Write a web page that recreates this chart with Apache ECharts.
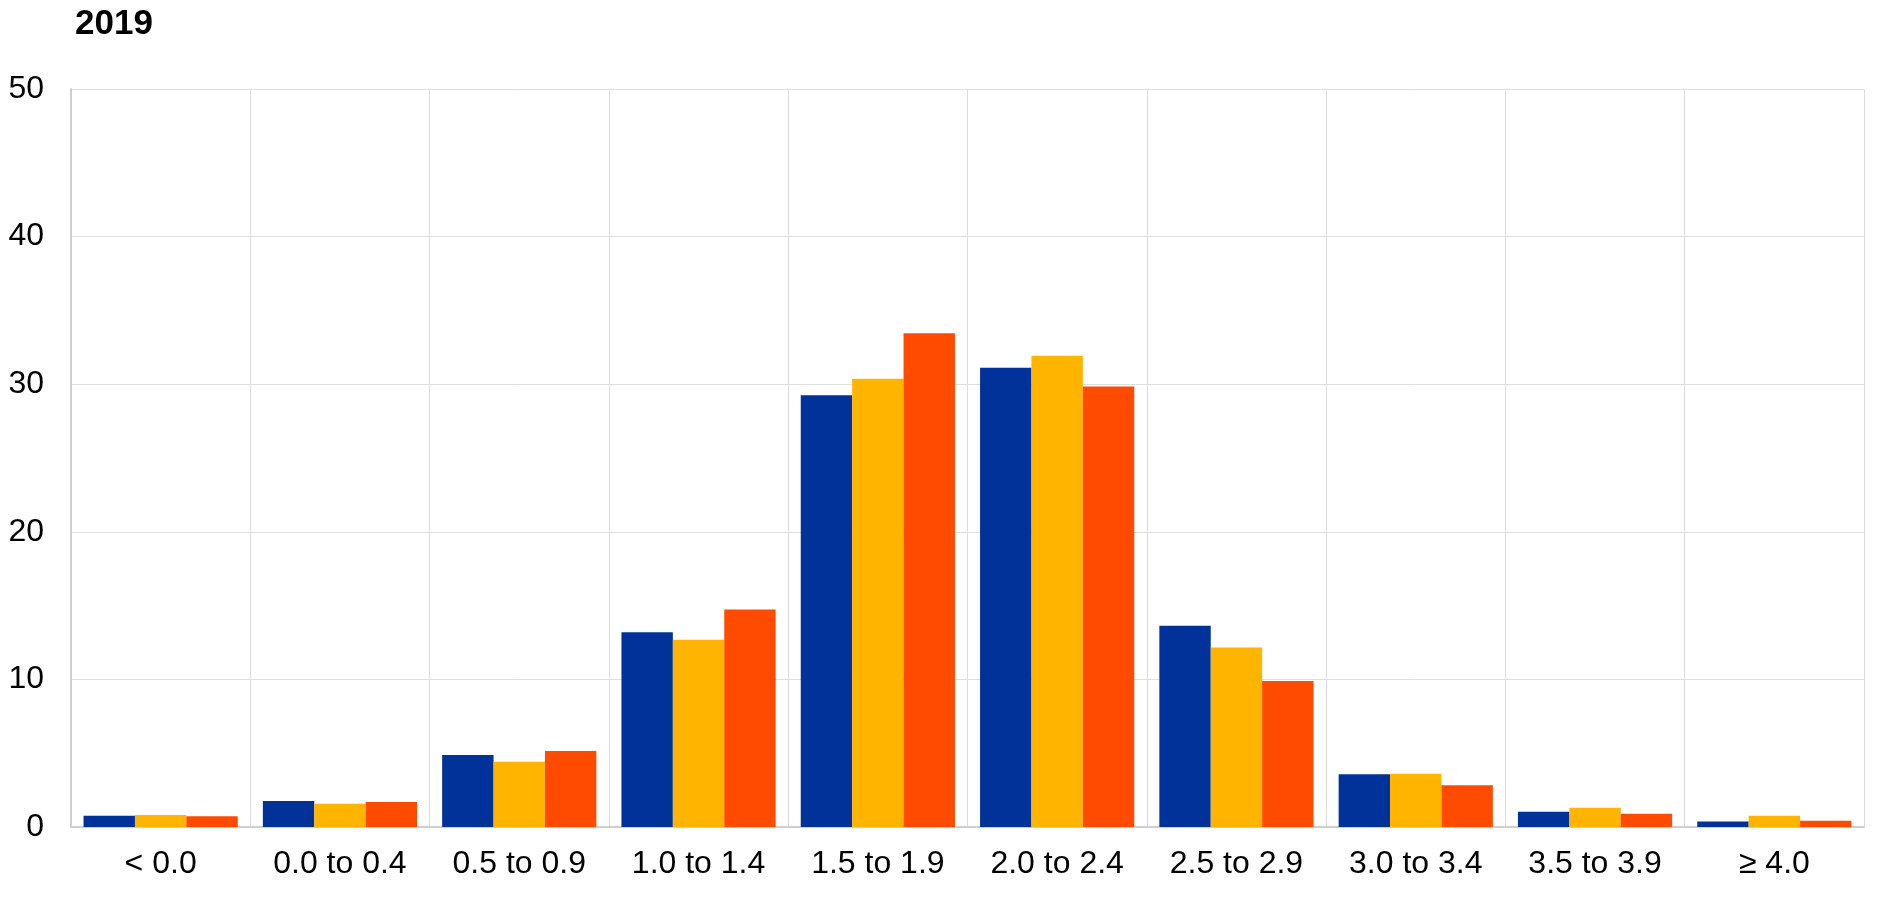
<!DOCTYPE html>
<html>
<head>
<meta charset="utf-8">
<script src="https://cdn.jsdelivr.net/npm/echarts@6/dist/echarts.min.js"></script>
<style>
html,body{margin:0;padding:0;background:#fff;}
#chart{width:1890px;height:897px;}
</style>
</head>
<body>
<div id="chart"></div>
<script>
var categories = ['< 0.0','0.0 to 0.4','0.5 to 0.9','1.0 to 1.4','1.5 to 1.9','2.0 to 2.4','2.5 to 2.9','3.0 to 3.4','3.5 to 3.9','\u2265 4.0'];
var seriesA = [0.77, 1.76, 4.88, 13.2, 29.25, 31.12, 13.63, 3.58, 1.04, 0.38];
var seriesB = [0.81, 1.58, 4.42, 12.68, 30.37, 31.93, 12.16, 3.6, 1.31, 0.77];
var seriesC = [0.72, 1.69, 5.15, 14.74, 33.45, 29.85, 9.89, 2.83, 0.9, 0.43];
var yTicks = {min: 0, max: 50, interval: 10};

var chart = echarts.init(document.getElementById('chart'));
var font = 'Liberation Sans, Arial, sans-serif';
chart.setOption({
  animation: false,
  title: {
    text: '2019', left: 70, top: 2,
    textStyle: {fontFamily: font, fontSize: 35, fontWeight: 'bold', color: '#000'}
  },
  grid: {left: 71, right: 26, top: 89, bottom: 70, containLabel: false},
  xAxis: {
    type: 'category', data: categories,
    axisLine: {show: true, lineStyle: {color: '#cfcfcf', width: 2}},
    axisTick: {show: false},
    splitLine: {show: true, lineStyle: {color: '#dedede', width: 1}},
    axisLabel: {fontFamily: font, fontSize: 32, color: '#000', margin: 21, interval: 0}
  },
  yAxis: {
    type: 'value', min: yTicks.min, max: yTicks.max, interval: yTicks.interval,
    axisLine: {show: true, lineStyle: {color: '#cfcfcf', width: 2}},
    axisTick: {show: false},
    splitLine: {show: true, lineStyle: {color: '#dedede', width: 1}},
    axisLabel: {fontFamily: font, fontSize: 32, color: '#000', margin: 27}
  },
  series: [
    {name: 'A', type: 'bar', data: seriesA, barGap: '0%', barCategoryGap: '14%', itemStyle: {color: '#003299'}},
    {name: 'B', type: 'bar', data: seriesB, barGap: '0%', barCategoryGap: '14%', itemStyle: {color: '#FFB400'}},
    {name: 'C', type: 'bar', data: seriesC, barGap: '0%', barCategoryGap: '14%', itemStyle: {color: '#FF4B00'}}
  ]
});
</script>
</body>
</html>
